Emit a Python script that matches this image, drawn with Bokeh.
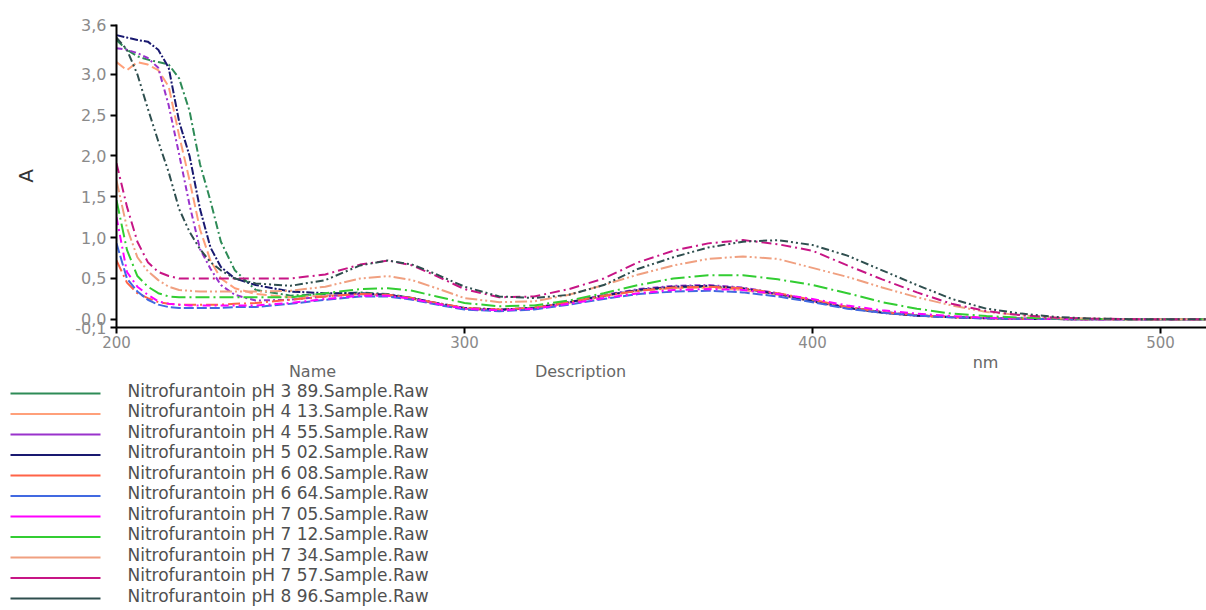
from bokeh.plotting import figure
from bokeh.layouts import column
from bokeh.models import Range1d, FixedTicker, CustomJSTickFormatter, ColumnDataSource
from bokeh.core.properties import value
from bokeh.embed import file_html
from bokeh.resources import INLINE

# ---------------- data ----------------
wavelength = [200, 203, 206, 209, 212, 215, 218, 221, 224, 227, 230, 234, 240, 250, 260,
              270, 278, 285, 292, 300, 310, 320, 330, 340, 350, 360, 370, 380, 390, 400,
              410, 420, 430, 440, 450, 460, 470, 480, 495, 513]

a_ph389 = [3.42, 3.30, 3.22, 3.18, 3.15, 3.12, 2.95, 2.55, 1.90, 1.45, 0.95, 0.60, 0.36, 0.29, 0.31,
           0.33, 0.31, 0.26, 0.19, 0.13, 0.11, 0.14, 0.21, 0.29, 0.35, 0.39, 0.40, 0.37, 0.31, 0.23,
           0.15, 0.09, 0.05, 0.03, 0.015, 0.008, 0.004, 0.0, 0.0, 0.0]
a_ph413 = [3.15, 3.05, 3.15, 3.12, 3.05, 2.85, 2.25, 1.70, 1.10, 0.72, 0.50, 0.38, 0.31, 0.27, 0.29,
           0.31, 0.29, 0.25, 0.19, 0.13, 0.11, 0.13, 0.20, 0.28, 0.35, 0.38, 0.39, 0.36, 0.30, 0.22,
           0.14, 0.08, 0.045, 0.025, 0.012, 0.006, 0.003, 0.0, 0.0, 0.0]
a_ph455 = [3.32, 3.30, 3.26, 3.20, 3.08, 2.62, 2.02, 1.40, 0.86, 0.62, 0.42, 0.30, 0.23, 0.24, 0.28,
           0.31, 0.30, 0.26, 0.19, 0.13, 0.11, 0.14, 0.21, 0.30, 0.37, 0.41, 0.42, 0.39, 0.32, 0.23,
           0.15, 0.09, 0.05, 0.03, 0.015, 0.008, 0.004, 0.0, 0.0, 0.0]
a_ph502 = [3.48, 3.45, 3.42, 3.40, 3.30, 3.08, 2.42, 2.00, 1.35, 0.88, 0.64, 0.50, 0.42, 0.34, 0.32,
           0.32, 0.30, 0.26, 0.20, 0.14, 0.12, 0.14, 0.21, 0.29, 0.36, 0.40, 0.41, 0.38, 0.31, 0.22,
           0.14, 0.08, 0.045, 0.025, 0.012, 0.006, 0.003, 0.0, 0.0, 0.0]
a_ph608 = [0.72, 0.45, 0.32, 0.26, 0.21, 0.19, 0.18, 0.18, 0.18, 0.18, 0.18, 0.19, 0.20, 0.24, 0.28,
           0.31, 0.30, 0.26, 0.20, 0.14, 0.12, 0.14, 0.21, 0.29, 0.35, 0.39, 0.40, 0.38, 0.32, 0.24,
           0.15, 0.09, 0.05, 0.03, 0.015, 0.008, 0.004, 0.0, 0.0, 0.0]
a_ph664 = [0.93, 0.50, 0.34, 0.24, 0.18, 0.15, 0.14, 0.14, 0.14, 0.14, 0.14, 0.15, 0.15, 0.19, 0.24,
           0.28, 0.28, 0.24, 0.18, 0.12, 0.10, 0.12, 0.18, 0.25, 0.31, 0.34, 0.35, 0.33, 0.28, 0.21,
           0.13, 0.08, 0.045, 0.025, 0.012, 0.006, 0.003, 0.0, 0.0, 0.0]
a_ph705 = [1.25, 0.58, 0.40, 0.30, 0.22, 0.19, 0.18, 0.17, 0.17, 0.17, 0.17, 0.17, 0.17, 0.20, 0.25,
           0.29, 0.29, 0.25, 0.19, 0.13, 0.11, 0.13, 0.19, 0.26, 0.32, 0.36, 0.37, 0.36, 0.31, 0.25,
           0.17, 0.11, 0.07, 0.04, 0.02, 0.01, 0.005, 0.0, 0.0, 0.0]
a_ph712 = [1.46, 0.85, 0.53, 0.40, 0.32, 0.28, 0.27, 0.27, 0.27, 0.27, 0.27, 0.27, 0.27, 0.27, 0.32,
           0.37, 0.38, 0.35, 0.28, 0.20, 0.16, 0.17, 0.23, 0.32, 0.42, 0.50, 0.54, 0.54, 0.49, 0.42,
           0.32, 0.21, 0.13, 0.07, 0.04, 0.02, 0.01, 0.005, 0.0, 0.0]
a_ph734 = [1.70, 1.12, 0.76, 0.59, 0.48, 0.40, 0.36, 0.35, 0.34, 0.34, 0.34, 0.34, 0.34, 0.35, 0.40,
           0.50, 0.53, 0.48, 0.38, 0.26, 0.21, 0.22, 0.30, 0.42, 0.55, 0.66, 0.74, 0.77, 0.74, 0.63,
           0.52, 0.39, 0.27, 0.17, 0.09, 0.05, 0.02, 0.01, 0.0, 0.0]
a_ph757 = [1.91, 1.38, 0.95, 0.70, 0.58, 0.53, 0.50, 0.50, 0.50, 0.50, 0.50, 0.50, 0.50, 0.50, 0.55,
           0.67, 0.72, 0.66, 0.53, 0.37, 0.27, 0.28, 0.37, 0.50, 0.70, 0.84, 0.93, 0.97, 0.92, 0.84,
           0.66, 0.49, 0.33, 0.19, 0.10, 0.05, 0.02, 0.01, 0.0, 0.0]
a_ph896 = [3.45, 3.30, 3.00, 2.58, 2.18, 1.80, 1.35, 1.07, 0.86, 0.70, 0.60, 0.50, 0.44, 0.41, 0.48,
           0.66, 0.72, 0.67, 0.55, 0.40, 0.28, 0.26, 0.30, 0.42, 0.62, 0.76, 0.88, 0.95, 0.97, 0.91,
           0.78, 0.60, 0.42, 0.25, 0.13, 0.07, 0.03, 0.01, 0.0, 0.0]

sample_names = [
    "Nitrofurantoin pH 3  89.Sample.Raw",
    "Nitrofurantoin pH 4  13.Sample.Raw",
    "Nitrofurantoin pH 4  55.Sample.Raw",
    "Nitrofurantoin pH 5  02.Sample.Raw",
    "Nitrofurantoin pH 6  08.Sample.Raw",
    "Nitrofurantoin pH 6  64.Sample.Raw",
    "Nitrofurantoin pH 7  05.Sample.Raw",
    "Nitrofurantoin pH 7  12.Sample.Raw",
    "Nitrofurantoin pH 7  34.Sample.Raw",
    "Nitrofurantoin pH 7  57.Sample.Raw",
    "Nitrofurantoin pH 8  96.Sample.Raw",
]
series = [a_ph389, a_ph413, a_ph455, a_ph502, a_ph608, a_ph664,
          a_ph705, a_ph712, a_ph734, a_ph757, a_ph896]
colors = ["#2e8b57", "#ffa07a", "#9932cc", "#191970", "#ff6347", "#4169e1",
          "#ff00ff", "#32cd32", "#f0a080", "#c71585", "#2f4f4f"]
dashes = ["8 3 2 3", "10 4", "6 3 2 3", "8 2 2 2", "12 4 2 4", "10 3",
          "8 4 2 4", "14 4 2 4", "12 3 2 3 2 3", "10 4 2 4", "8 3 2 3 2 3"]

y_ticks = [-0.1, 0.0, 0.5, 1.0, 1.5, 2.0, 2.5, 3.0, 3.6]
x_ticks = [200, 300, 400, 500]
x_title = "nm"
y_title = "A"
table_headers = ["Name", "Description"]

FONT = "DejaVu Sans"
W = 1206

# ---------------- main plot ----------------
p = figure(width=W, height=352, output_backend="svg", toolbar_location=None,
           x_range=Range1d(200, 513.2), y_range=Range1d(-0.1, 3.61),
           min_border_left=116, min_border_right=0, min_border_top=24, min_border_bottom=25)
p.outline_line_color = None
p.xgrid.visible = False
p.ygrid.visible = False

for ys, c, d in zip(series, colors, dashes):
    p.line(wavelength, ys, line_color=c, line_width=2, line_dash=d)

for ax in (p.xaxis[0], p.yaxis[0]):
    ax.axis_line_width = 2
    ax.axis_line_color = "black"
    ax.major_tick_line_color = "black"
    ax.major_tick_line_width = 2
    ax.major_tick_out = 6
    ax.major_tick_in = 0
    ax.minor_tick_line_color = None
    ax.major_label_text_font = FONT
    ax.major_label_text_font_size = "15px"
    ax.major_label_text_color = "#8a8a8a"

p.yaxis.ticker = FixedTicker(ticks=y_ticks)
p.yaxis.formatter = CustomJSTickFormatter(code="return tick.toFixed(1).replace('.', ',');")
p.yaxis.major_label_standoff = 4
p.yaxis.major_label_text_font_size = "16px"
p.yaxis.axis_label = y_title
p.yaxis.axis_label_text_font = FONT
p.yaxis.axis_label_text_font_size = "20px"
p.yaxis.axis_label_text_font_style = "normal"
p.yaxis.axis_label_text_color = "#333333"
p.yaxis.axis_label_standoff = 34

p.xaxis.ticker = FixedTicker(ticks=x_ticks)
p.xaxis.major_label_standoff = 2

# ---------------- legend table ----------------
H2 = 258
leg = figure(width=W, height=H2, output_backend="svg", toolbar_location=None,
             x_range=Range1d(0, W), y_range=Range1d(H2, 0),
             x_axis_type=None, y_axis_type=None, min_border=0)
leg.outline_line_color = None
leg.xgrid.visible = False
leg.ygrid.visible = False

for fig in (p, leg):
    try:
        fig.frame_align = False
    except Exception:
        pass

# axis title of the x axis, placed to the right like the reference
leg.text(x=[985], y=[10], text=[x_title], text_font=value(FONT), text_font_size="16px",
         text_color="#666666", text_align="center", text_baseline="middle")
leg.text(x=[312, 580], y=[19, 19], text=table_headers, text_font=value(FONT),
         text_font_size="16px", text_color="#666666", text_align="center", text_baseline="middle")

row_y = [38 + i * 20.5 for i in range(len(sample_names))]
src = ColumnDataSource(dict(
    x0=[10] * len(row_y), x1=[100] * len(row_y),
    yl=[y + 3 for y in row_y], yt=row_y, xt=[127] * len(row_y),
    name=sample_names, color=colors))
leg.segment(x0="x0", y0="yl", x1="x1", y1="yl", line_color="color", line_width=2, source=src)
leg.text(x="xt", y="yt", text="name", text_font=value(FONT), text_font_size="17px",
         text_color="#505050", text_baseline="middle", text_align="left", source=src)

layout = column(p, leg, spacing=0)
open("out.html", "w").write(file_html(layout, INLINE))
